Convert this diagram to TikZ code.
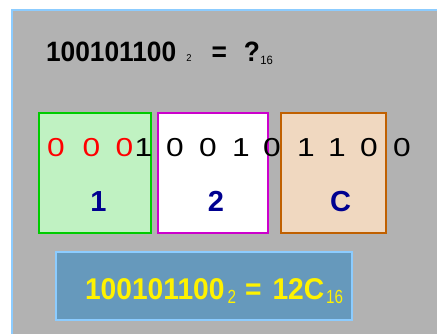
\documentclass[tikz,border=0pt]{standalone}
\usepackage{fontspec}
\setmainfont{Liberation Sans}
\newfontfamily\titlefont{Liberation Sans}[FakeStretch=0.94]
\newfontfamily\bitfont{Liberation Sans}[FakeStretch=1.22]
\newfontfamily\subfont{Liberation Sans}[FakeStretch=0.8]
\usetikzlibrary{positioning}
\definecolor{panelgray}{RGB}{178,178,178}
\definecolor{rimblue}{RGB}{140,204,255}
\definecolor{resultblue}{RGB}{102,153,188}
\definecolor{hexblue}{RGB}{0,0,144}
\definecolor{grpgreen}{RGB}{0,204,0}
\definecolor{grpgreenfill}{RGB}{192,242,194}
\definecolor{grpmagenta}{RGB}{204,0,204}
\definecolor{grporange}{RGB}{192,96,0}
\definecolor{grporangefill}{RGB}{240,216,192}
\newcommand{\smalltxt}[2]{{\fontsize{#1}{#1}\selectfont #2}}

\begin{document}
\begin{tikzpicture}[
  x=1pt, y=-1pt,
  every node/.style={inner sep=0pt, outer sep=0pt},
  panel/.style={rectangle, fill=panelgray, minimum width=425pt, minimum height=324pt},
  rim/.style={draw=rimblue, line width=2pt},
  group/.style={rectangle, draw, line width=2pt, minimum height=120.5pt},
  bit/.style={font=\bitfont\fontsize{26}{26}\selectfont, anchor=base},
  hexdigit/.style={font=\bfseries\fontsize{29}{29}\selectfont, text=hexblue, anchor=base},
  result/.style={rectangle, fill=resultblue, draw=rimblue, line width=2pt,
                 minimum width=296pt, minimum height=68pt},
]
\useasboundingbox (0,0) rectangle (437,334);
\fill[white] (0,0) rectangle (437,334);

% grey panel with blue rim on the left and top
\node[panel] (panel) at (224.5,172) {};
\draw[rim] (panel.south west) -- (panel.north west) -- (panel.north east);

% question
\node[anchor=base west, font=\titlefont\fontsize{28}{28}\selectfont] (question) at (46,62)
  {\textbf{100101100}\hspace{10pt}\smalltxt{10}{2}\hspace{20pt}\textbf{=}\hspace{17pt}\textbf{?}\hspace{0.5pt}\raisebox{-3pt}{\smalltxt{12}{16}}};

% groups of four bits
\node[group, draw=grpgreen, fill=grpgreenfill, minimum width=112pt] (g1) at (95.3,173) {};
\node[group, draw=grpmagenta, fill=white, minimum width=110pt, right=7pt of g1] (g2) {};
\node[group, draw=grporange, fill=grporangefill, minimum width=104.7pt, right=12.7pt of g2] (g3) {};

\node[bit, text=red] (b1) at (56,157) {0};
\node[bit, text=red] (b2) at (91.5,157) {0};
\node[bit, text=red] (b3) at (124.5,157) {0};
\node[bit] (b4) at (143.5,157) {1};
\node[bit] (b5) at (175,157) {0};
\node[bit] (b6) at (208,157) {0};
\node[bit] (b7) at (241,157) {1};
\node[bit] (b8) at (272,157) {0};
\node[bit] (b9) at (306,157) {1};
\node[bit] (b10) at (337,157) {1};
\node[bit] (b11) at (369,157) {0};
\node[bit] (b12) at (402,157) {0};

\node[hexdigit] (h1) at (98.5,212) {1};
\node[hexdigit] (h2) at (216,212) {2};
\node[hexdigit] (h3) at (340.5,212) {C};

% answer
\node[result] (answer) at (204,286) {};
\node[anchor=base west, text=yellow, font=\titlefont\fontsize{30}{30}\selectfont] (answertext) at (85,299)
  {\textbf{100101100}\hspace{3pt}\raisebox{-4pt}{\subfont\smalltxt{19}{2}}\hspace{9pt}\textbf{=}\hspace{11pt}\textbf{12C}\hspace{2pt}\raisebox{-4pt}{\subfont\smalltxt{19}{16}}};
\end{tikzpicture}
\end{document}
